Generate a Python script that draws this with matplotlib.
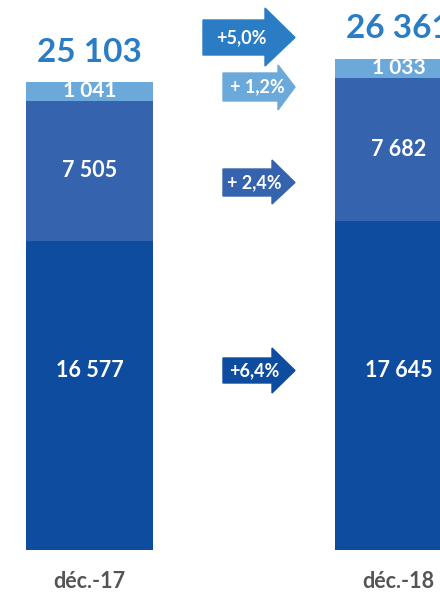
import matplotlib.pyplot as plt
from matplotlib.patches import Polygon

# data
categories = ['déc.-17', 'déc.-18']
dark = [16577, 17645]
mid = [7505, 7682]
light = [1041, 1033]
totals = [25103, 26361]
growth = ['+5,0%', '+ 1,2%', '+ 2,4%', '+6,4%']

c_dark = '#0E4C9F'
c_mid = '#3563AE'
c_light = '#6CA9DB'
c_total = '#2A7DC4'

plt.rcParams['font.family'] = ['Lato', 'DejaVu Sans']
plt.rcParams['font.weight'] = 'bold'

W, H = 440, 593
fig = plt.figure(figsize=(W / 100, H / 100), dpi=100)
ax = fig.add_axes([0, 0, 1, 1])
ax.axis('off')

# scale: bar bottom at 550 px, 25103 -> 468 px
upp = 25103 / 468.0
ax.set_ylim(-(H - 550) * upp, 550 * upp)
ax.set_xlim(-89.5 / 309, (W - 89.5) / 309)

x = [0, 1]
bw = 127 / 309
ax.bar(x, dark, bw, color=c_dark)
ax.bar(x, mid, bw, bottom=dark, color=c_mid)
bot2 = [d + m for d, m in zip(dark, mid)]
ax.bar(x, light, bw, bottom=bot2, color=c_light)


def fmt(v):
    return f'{v:,}'.replace(',', ' ')


# dark labels share one height, a bit above the middle
y_dark = min(dark) * 0.58
for i in range(2):
    ax.text(x[i], y_dark, fmt(dark[i]), color='white', ha='center',
            va='center', fontsize=15.5)
    ax.text(x[i], dark[i] + mid[i] / 2, fmt(mid[i]), color='white',
            ha='center', va='center', fontsize=15.5)
    ax.text(x[i], bot2[i] + light[i] / 2, fmt(light[i]), color='white',
            ha='center', va='center', fontsize=15)
    ax.annotate(fmt(totals[i]), (x[i], totals[i]), xytext=(0, 11),
                textcoords='offset points', ha='center', va='bottom',
                fontsize=24, color=c_total)
    ax.text(x[i], -31 * upp, categories[i], ha='center', va='center',
            fontsize=15.5, color='#555555')


# growth arrows (pixel geometry)
def px(xp, yp):
    return (xp / W, 1 - yp / H)


arrows = [
    # x0, body top, body bottom, head start, head top, head bottom, tip, color
    (203, 20, 55, 265, 8, 66, 295, c_total),
    (223, 73, 101, 278, 65, 110, 295, c_light),
    (223, 169, 196, 272, 160, 204, 295, c_mid),
    (223, 358, 383, 272, 348, 393, 295, c_dark),
]
for (x0, bt, bb, xh, ht, hb, tip, col), lab in zip(arrows, growth):
    pts = [px(x0, bt), px(xh, bt), px(xh, ht), px(tip, (bt + bb) / 2),
           px(xh, hb), px(xh, bb), px(x0, bb)]
    fig.patches.append(Polygon(pts, closed=True, color=col,
                               transform=fig.transFigure))
    fig.text(*px((x0 + xh) / 2 + 7, (bt + bb) / 2), lab, color='white',
             ha='center', va='center', fontsize=13)

fig.savefig('out.png', dpi=100)
